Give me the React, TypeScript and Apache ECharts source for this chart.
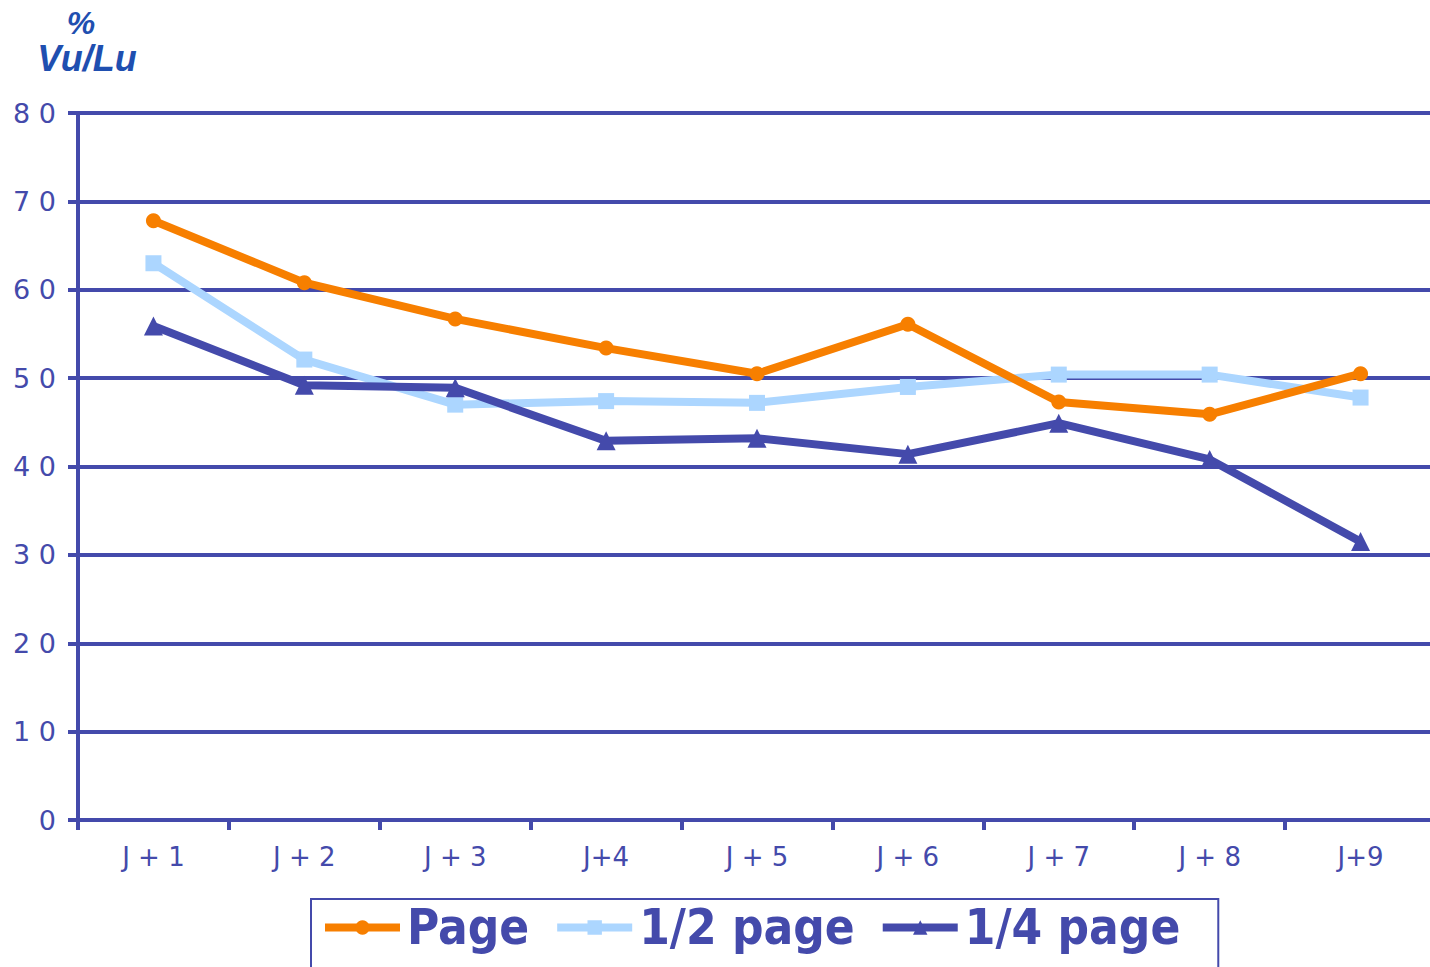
import React, { useEffect, useRef } from "react";
import * as echarts from "echarts";

const categories = ["J + 1", "J + 2", "J + 3", "J+4", "J + 5", "J + 6", "J + 7", "J + 8", "J+9"];
const pageValues = [67.8, 60.8, 56.7, 53.4, 50.5, 56.1, 47.3, 45.9, 50.5];
const halfPageValues = [63.0, 52.1, 47.0, 47.4, 47.2, 49.0, 50.4, 50.4, 47.8];
const quarterPageValues = [55.9, 49.2, 48.9, 42.9, 43.2, 41.4, 44.9, 40.8, 31.5];
const seriesNames = ["Page", "1/2 page", "1/4 page"];
const unitLines = ["%", "Vu/Lu"];

const DARK = "#444aab";
const ORANGE = "#f77f00";
const LIGHT = "#acd6ff";

export default function App() {
  const ref = useRef<HTMLDivElement>(null);
  useEffect(() => {
    if (!ref.current) return;
    const chart = echarts.init(ref.current, undefined, { renderer: "svg" });
    chart.setOption({
      animation: false,
      backgroundColor: "#ffffff",
      graphic: [
        {
          type: "text",
          x: 81,
          y: 23,
          style: {
            text: unitLines[0],
            fontFamily: "Liberation Sans",
            fontWeight: "bold",
            fontStyle: "italic",
            fontSize: 32,
            lineHeight: 26,
            fill: "#1f4fb0",
            align: "center",
            verticalAlign: "middle",
          },
        },
        {
          type: "text",
          x: 87,
          y: 58,
          style: {
            text: unitLines[1],
            fontFamily: "Liberation Sans",
            fontWeight: "bold",
            fontStyle: "italic",
            fontSize: 36,
            lineHeight: 30,
            fill: "#1f4fb0",
            align: "center",
            verticalAlign: "middle",
          },
        },
      ],
      grid: { left: 78, width: 1358, top: 113, bottom: 147, containLabel: false },
      legend: {
        top: 899,
        left: 311,
        itemWidth: 75,
        itemHeight: 18,
        itemGap: 24,
        borderColor: DARK,
        borderWidth: 2,
        padding: [4, 38, 30, 10],
        lineStyle: { width: 8 },
        textStyle: {
          fontFamily: "DejaVu Sans Condensed, DejaVu Sans",
          fontWeight: "bold",
          fontSize: 49,
          color: DARK,
          padding: [0, 0, 0, 2],
        },
        data: seriesNames,
      },
      xAxis: {
        type: "category",
        data: categories,
        boundaryGap: true,
        axisLine: { lineStyle: { color: DARK, width: 4 } },
        axisTick: { show: true, length: 10, lineStyle: { color: DARK, width: 4 } },
        axisLabel: {
          color: DARK,
          fontFamily: "DejaVu Sans",
          fontSize: 26,
          margin: 24,
        },
        splitLine: { show: false },
      },
      yAxis: {
        type: "value",
        min: 0,
        max: 80,
        interval: 10,
        axisLine: { show: true, lineStyle: { color: DARK, width: 4 } },
        axisTick: { show: true, length: 10, lineStyle: { color: DARK, width: 4 } },
        axisLabel: {
          color: DARK,
          fontFamily: "DejaVu Sans",
          fontSize: 27,
          margin: 22,
          formatter: (v: number) => String(v).split("").join(" "),
        },
        splitLine: { show: true, lineStyle: { color: DARK, width: 4 } },
      },
      series: [
        {
          name: seriesNames[0],
          type: "line",
          data: pageValues,
          symbol: "circle",
          symbolSize: 15,
          lineStyle: { color: ORANGE, width: 8 },
          itemStyle: { color: ORANGE },
          z: 3,
        },
        {
          name: seriesNames[1],
          type: "line",
          data: halfPageValues,
          symbol: "rect",
          symbolSize: 16,
          lineStyle: { color: LIGHT, width: 8 },
          itemStyle: { color: LIGHT },
          z: 2,
        },
        {
          name: seriesNames[2],
          type: "line",
          data: quarterPageValues,
          symbol: "triangle",
          symbolSize: 19,
          lineStyle: { color: DARK, width: 8 },
          itemStyle: { color: DARK },
          z: 4,
        },
      ],
    });
    return () => chart.dispose();
  }, []);
  return (
    <div style={{ position: "fixed", left: 0, top: 0, width: 1430, height: 967, overflow: "hidden" }}>
      <div ref={ref} style={{ width: 1437, height: 967 }} />
    </div>
  );
}
